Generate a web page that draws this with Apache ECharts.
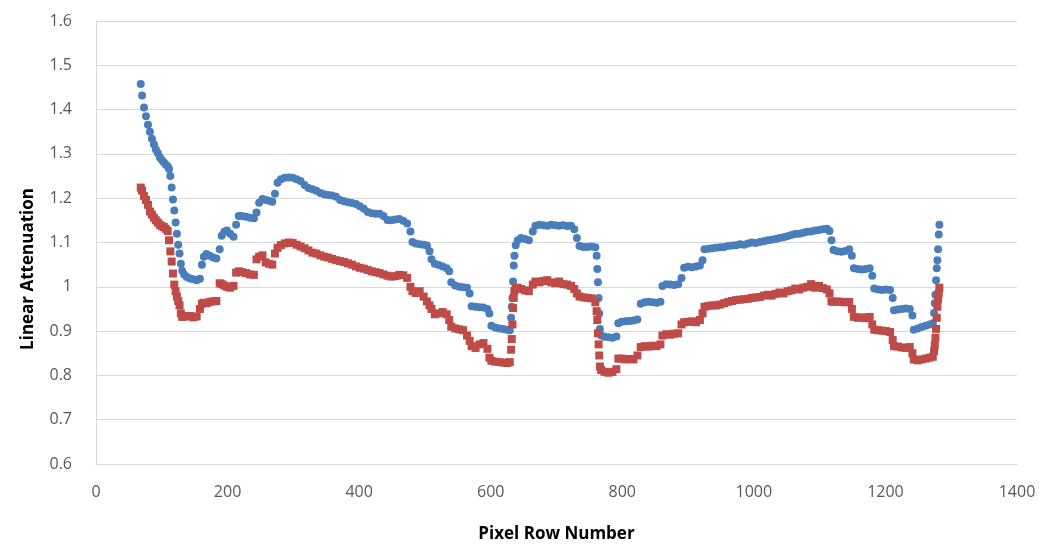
<!DOCTYPE html>
<html>
<head>
<meta charset="utf-8">
<script src="https://cdn.jsdelivr.net/npm/echarts@6/dist/echarts.min.js"></script>
<style>
  html, body { margin: 0; padding: 0; background: #fff; }
  #chart { width: 1046px; height: 548px; }
</style>
</head>
<body>
<div id="chart"></div>
<script>
// pixel row numbers (x), shared by both series
const rows = [
  68, 70, 73, 76, 79, 82, 85, 88, 91, 94,
  97, 100, 103, 106, 109, 111, 113, 115, 117, 119,
  121, 123, 125, 127, 129, 131, 134, 138, 143, 148,
  153, 158, 161, 164, 168, 173, 178, 183, 188, 191,
  195, 199, 204, 209, 213, 217, 222, 228, 234, 240,
  244, 248, 253, 258, 263, 268, 272, 276, 281, 287,
  293, 299, 305, 311, 317, 323, 329, 335, 341, 347,
  353, 359, 365, 371, 377, 383, 389, 395, 401, 407,
  413, 419, 425, 431, 437, 443, 449, 455, 461, 467,
  473, 478, 481, 486, 492, 498, 503, 507, 510, 515,
  521, 527, 533, 537, 540, 546, 552, 558, 564, 568,
  571, 577, 583, 589, 595, 598, 601, 607, 613, 619,
  625, 629, 631, 632, 633, 634, 635, 636, 638, 641,
  646, 652, 658, 664, 668, 674, 680, 686, 692, 698,
  704, 710, 716, 722, 727, 731, 735, 741, 747, 753,
  759, 761, 762, 763, 764, 765, 766, 768, 773, 779,
  785, 791, 794, 799, 805, 811, 817, 823, 828, 834,
  840, 846, 852, 858, 861, 867, 873, 879, 885, 890,
  894, 900, 906, 912, 918, 922, 925, 931, 937, 943,
  949, 955, 961, 967, 973, 979, 985, 991, 997, 1003,
  1009, 1015, 1021, 1027, 1033, 1039, 1045, 1051, 1057, 1063,
  1069, 1075, 1081, 1087, 1093, 1099, 1105, 1111, 1115, 1118,
  1121, 1127, 1133, 1139, 1145, 1149, 1152, 1158, 1164, 1170,
  1176, 1180, 1183, 1189, 1195, 1201, 1207, 1211, 1213, 1219,
  1225, 1231, 1237, 1241, 1243, 1249, 1255, 1261, 1267, 1272,
  1274, 1275, 1276, 1277, 1278, 1279, 1280, 1281, 1282
]

// blue circles
const blueVals = [
  1.458, 1.432, 1.405, 1.385, 1.366, 1.350, 1.334, 1.322, 1.310, 1.302,
  1.292, 1.286, 1.281, 1.276, 1.272, 1.266, 1.250, 1.224, 1.197, 1.172,
  1.145, 1.120, 1.095, 1.075, 1.052, 1.036, 1.028, 1.022, 1.019, 1.017,
  1.015, 1.018, 1.050, 1.068, 1.074, 1.070, 1.066, 1.064, 1.085, 1.115,
  1.124, 1.127, 1.120, 1.113, 1.140, 1.160, 1.160, 1.158, 1.156, 1.155,
  1.168, 1.190, 1.198, 1.196, 1.194, 1.192, 1.210, 1.235, 1.243, 1.246,
  1.247, 1.246, 1.243, 1.239, 1.230, 1.223, 1.220, 1.217, 1.212, 1.209,
  1.207, 1.206, 1.203, 1.196, 1.193, 1.191, 1.189, 1.187, 1.182, 1.176,
  1.169, 1.166, 1.165, 1.165, 1.160, 1.151, 1.150, 1.152, 1.153, 1.149,
  1.143, 1.125, 1.101, 1.098, 1.096, 1.095, 1.093, 1.080, 1.062, 1.052,
  1.049, 1.046, 1.042, 1.035, 1.010, 1.003, 1.000, 0.999, 0.998, 0.985,
  0.956, 0.955, 0.954, 0.953, 0.950, 0.940, 0.912, 0.908, 0.906, 0.905,
  0.903, 0.902, 0.930, 0.955, 0.975, 1.012, 1.048, 1.070, 1.094, 1.105,
  1.110, 1.108, 1.105, 1.125, 1.138, 1.140, 1.139, 1.138, 1.140, 1.139,
  1.138, 1.139, 1.137, 1.138, 1.130, 1.110, 1.092, 1.090, 1.090, 1.091,
  1.089, 1.070, 1.040, 1.010, 0.975, 0.940, 0.905, 0.890, 0.887, 0.886,
  0.885, 0.888, 0.918, 0.921, 0.922, 0.923, 0.924, 0.926, 0.962, 0.965,
  0.966, 0.965, 0.964, 0.966, 1.002, 1.006, 1.005, 1.004, 1.006, 1.020,
  1.043, 1.045, 1.044, 1.046, 1.048, 1.060, 1.085, 1.086, 1.087, 1.088,
  1.089, 1.090, 1.092, 1.093, 1.094, 1.096, 1.095, 1.098, 1.100, 1.099,
  1.101, 1.103, 1.105, 1.106, 1.108, 1.110, 1.112, 1.114, 1.117, 1.119,
  1.120, 1.122, 1.124, 1.125, 1.127, 1.128, 1.130, 1.131, 1.126, 1.105,
  1.083, 1.080, 1.079, 1.081, 1.085, 1.070, 1.042, 1.040, 1.039, 1.040,
  1.042, 1.025, 0.996, 0.994, 0.993, 0.994, 0.993, 0.975, 0.947, 0.949,
  0.950, 0.951, 0.950, 0.935, 0.903, 0.906, 0.909, 0.912, 0.915, 0.918,
  0.941, 0.963, 0.982, 1.015, 1.042, 1.060, 1.085, 1.118, 1.140
]

// red squares
const redVals = [
  1.224, 1.217, 1.205, 1.196, 1.185, 1.170, 1.163, 1.156, 1.150, 1.145,
  1.140, 1.137, 1.135, 1.131, 1.126, 1.105, 1.080, 1.057, 1.030, 1.005,
  0.990, 0.978, 0.968, 0.958, 0.940, 0.932, 0.934, 0.933, 0.934, 0.931,
  0.933, 0.950, 0.962, 0.964, 0.963, 0.966, 0.967, 0.968, 1.008, 1.006,
  1.003, 1.000, 0.998, 1.002, 1.032, 1.035, 1.033, 1.031, 1.028, 1.027,
  1.062, 1.068, 1.071, 1.055, 1.052, 1.050, 1.075, 1.088, 1.094, 1.098,
  1.100, 1.099, 1.095, 1.091, 1.087, 1.082, 1.077, 1.075, 1.071, 1.068,
  1.066, 1.063, 1.060, 1.058, 1.056, 1.053, 1.050, 1.046, 1.043, 1.041,
  1.038, 1.035, 1.033, 1.031, 1.028, 1.025, 1.023, 1.024, 1.027, 1.026,
  1.020, 1.000, 0.990, 0.986, 0.990, 0.978, 0.967, 0.958, 0.950, 0.938,
  0.940, 0.943, 0.938, 0.925, 0.910, 0.906, 0.904, 0.902, 0.890, 0.878,
  0.866, 0.862, 0.870, 0.873, 0.860, 0.840, 0.833, 0.831, 0.830, 0.829,
  0.828, 0.830, 0.858, 0.882, 0.915, 0.952, 0.975, 0.990, 0.997, 0.998,
  0.995, 0.992, 0.990, 1.005, 1.012, 1.010, 1.013, 1.015, 1.010, 1.008,
  1.012, 1.006, 1.005, 1.002, 0.995, 0.985, 0.978, 0.976, 0.975, 0.974,
  0.965, 0.945, 0.925, 0.895, 0.870, 0.845, 0.820, 0.812, 0.808, 0.806,
  0.808, 0.814, 0.838, 0.838, 0.836, 0.837, 0.836, 0.845, 0.864, 0.866,
  0.865, 0.867, 0.866, 0.870, 0.890, 0.893, 0.892, 0.894, 0.895, 0.915,
  0.920, 0.921, 0.922, 0.920, 0.925, 0.940, 0.955, 0.957, 0.958, 0.958,
  0.960, 0.963, 0.966, 0.968, 0.970, 0.971, 0.972, 0.973, 0.975, 0.976,
  0.977, 0.980, 0.982, 0.980, 0.984, 0.987, 0.985, 0.990, 0.992, 0.996,
  0.994, 0.998, 1.000, 1.006, 0.998, 1.002, 0.997, 0.994, 0.985, 0.967,
  0.966, 0.967, 0.966, 0.965, 0.966, 0.950, 0.932, 0.930, 0.931, 0.929,
  0.932, 0.915, 0.903, 0.902, 0.901, 0.900, 0.898, 0.880, 0.866, 0.865,
  0.863, 0.862, 0.864, 0.850, 0.836, 0.834, 0.836, 0.838, 0.840, 0.842,
  0.855, 0.868, 0.885, 0.905, 0.930, 0.955, 0.972, 0.985, 0.998
]

const xTicks = { min: 0, max: 1400, interval: 200 }
const yTicks = { min: 0.6, max: 1.6, interval: 0.1 }

const font = '"Open Sans", "Liberation Sans", sans-serif'
const gridColor = '#d9d9d9'

const chart = echarts.init( document.getElementById( 'chart' ), null, { renderer: 'canvas' } )

chart.setOption( {
  animation: false,
  grid: { left: 96, right: 29, top: 21, bottom: 81 },
  xAxis: {
    type: 'value',
    min: xTicks.min,
    max: xTicks.max,
    interval: xTicks.interval,
    axisLine: { lineStyle: { color: gridColor } },
    axisTick: { show: false },
    splitLine: { show: false },
    axisLabel: {
      color: '#595959', fontFamily: font, fontSize: 16, margin: 20,
      formatter: v => String( v )
    },
    name: 'Pixel Row Number',
    nameLocation: 'middle',
    nameGap: 62,
    nameTextStyle: { color: '#000', fontFamily: font, fontSize: 17, fontWeight: 'bold' }
  },
  yAxis: {
    type: 'value',
    min: yTicks.min,
    max: yTicks.max,
    interval: yTicks.interval,
    axisLine: { show: true, lineStyle: { color: gridColor } },
    axisTick: { show: false },
    splitLine: { lineStyle: { color: gridColor, width: 1 } },
    axisLabel: {
      color: '#595959', fontFamily: font, fontSize: 16, margin: 24,
      formatter: v => String( +v.toFixed( 1 ) )
    }
  },
  graphic: [ {
    type: 'text',
    x: 28,
    y: 269,
    rotation: Math.PI / 2,
    style: {
      text: 'Linear Attenuation',
      fill: '#000',
      font: 'bold 17px ' + font,
      align: 'center',
      verticalAlign: 'middle'
    }
  } ],
  series: [
    {
      name: 'blue',
      type: 'scatter',
      symbol: 'circle',
      symbolSize: 8,
      itemStyle: { color: '#4a7ebb', opacity: 1 },
      data: rows.map( ( x, i ) => [ x, blueVals[ i ] ] )
    },
    {
      name: 'red',
      type: 'scatter',
      symbol: 'rect',
      symbolSize: 8,
      itemStyle: { color: '#be4b48', opacity: 1 },
      data: rows.map( ( x, i ) => [ x, redVals[ i ] ] )
    }
  ]
} )
</script>
</body>
</html>
